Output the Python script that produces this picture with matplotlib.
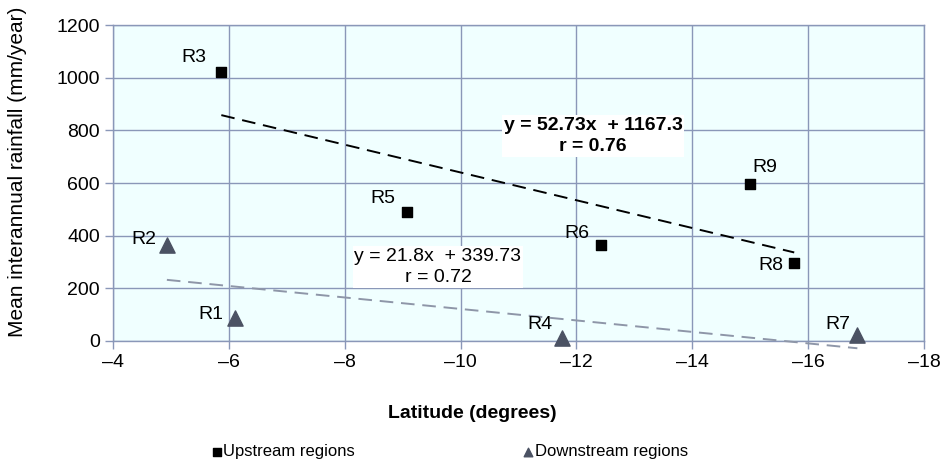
import numpy as np
import matplotlib
matplotlib.use("Agg")
import matplotlib.pyplot as plt

plt.rcParams['font.family'] = ['Liberation Sans', 'DejaVu Sans']

# Upstream regions (black squares)
up_names = ['R3', 'R5', 'R6', 'R9', 'R8']
up_lat = [-5.87, -9.08, -12.43, -15.0, -15.76]
up_rain = [1022, 490, 365, 596, 296]

# Downstream regions (grey triangles)
down_names = ['R2', 'R1', 'R4', 'R7']
down_lat = [-4.93, -6.1, -11.75, -16.85]
down_rain = [365, 87, 12, 23]

# trend lines as printed on the chart
up_fit = (52.73, 1167.3)
down_fit = (21.8, 339.73)

grid_col = '#8a97b8'
tri_col = '#4b5263'

fig = plt.figure(figsize=(9.44, 4.63), dpi=100)
ax = fig.add_axes([0.1197, 0.2635, 0.8591, 0.6825])
ax.set_facecolor('#f0ffff')

ax.set_xlim(-4, -18)
ax.set_ylim(0, 1200)
ax.set_xticks(np.arange(-4, -19, -2))
ax.set_yticks(np.arange(0, 1201, 200))
ax.set_xticklabels(['\u2013%d' % abs(v) for v in np.arange(-4, -19, -2)])
ax.grid(True, color=grid_col, linewidth=1.0)
ax.set_axisbelow(True)
for s in ax.spines.values():
    s.set_color(grid_col)
    s.set_linewidth(1.0)
ax.tick_params(axis='both', colors=grid_col, labelcolor='black', labelsize=14,
               length=6, width=1.0, direction='out')

# trend lines
x_up = np.array([max(up_lat), min(up_lat)])
ax.plot(x_up, up_fit[0] * x_up + up_fit[1], color='black', lw=1.4,
        dashes=(7, 4), zorder=3)
x_dn = np.array([max(down_lat), min(down_lat)])
ax.plot(x_dn, down_fit[0] * x_dn + down_fit[1], color='#8e96a8', lw=1.4,
        dashes=(7, 4), zorder=3, clip_on=False)

ax.scatter(up_lat, up_rain, marker='s', s=60, color='black', zorder=4,
           label='Upstream regions')
ax.scatter(down_lat, down_rain, marker='^', s=120, color=tri_col, zorder=4,
           label='Downstream regions', clip_on=False)

# point labels (offsets in data units: dx toward the left, dy up)
up_off = {'R3': (-0.47, 53), 'R5': (-0.42, 53), 'R6': (-0.42, 45),
          'R9': (0.26, 61), 'R8': (-0.41, -8)}
for n, x, y in zip(up_names, up_lat, up_rain):
    dx, dy = up_off[n]
    ax.text(x - dx, y + dy, n, fontsize=14, ha='center', va='center', zorder=5)
down_off = {'R2': (-0.4, 19), 'R1': (-0.41, 12), 'R4': (-0.38, 50),
            'R7': (-0.33, 40)}
for n, x, y in zip(down_names, down_lat, down_rain):
    dx, dy = down_off[n]
    ax.text(x - dx, y + dy, n, fontsize=14, ha='center', va='center', zorder=5)

box = dict(facecolor='white', edgecolor='none', pad=1.0)
ax.text(-12.29, 778,
        'y = %.2fx  + %.1f\nr = 0.76' % up_fit,
        fontsize=14, fontweight='bold', ha='center', va='center',
        linespacing=1.35, bbox=box, zorder=5)
ax.text(-9.61, 281,
        'y = %.1fx  + %.2f\nr = 0.72' % down_fit,
        fontsize=14, ha='center', va='center', linespacing=1.35,
        bbox=box, zorder=5)

ax.set_xlabel('Latitude (degrees)', fontsize=14, fontweight='bold')
ax.xaxis.set_label_coords(0.443, -0.228)
ax.xaxis.label.set_verticalalignment('center')
ax.set_ylabel('Mean interannual rainfall (mm/year)', fontsize=15)
ax.yaxis.set_label_coords(-0.106, 0.535)

leg = fig.legend(loc='center left', bbox_to_anchor=(0.2225, 0.025), ncol=2,
                 frameon=False, fontsize=12, handlelength=0.8,
                 handletextpad=0.0, columnspacing=10,
                 borderpad=0, borderaxespad=0)
leg.legend_handles[0].set_sizes([36])
leg.legend_handles[1].set_sizes([38])

fig.savefig('out.png', dpi=100)
